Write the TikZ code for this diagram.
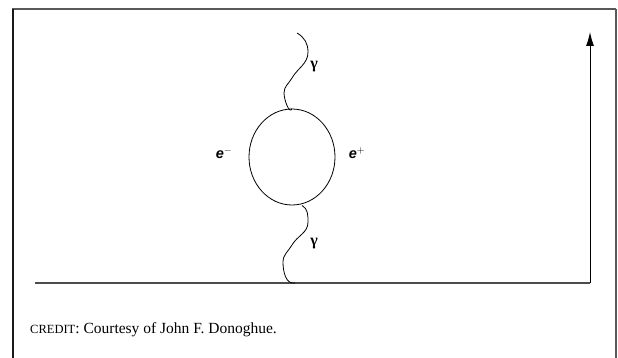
\documentclass[tikz,border=0pt]{standalone}
\usepackage{fontspec}
\setmainfont{Liberation Serif}
\newfontfamily\labfont{Liberation Sans}
\usetikzlibrary{arrows.meta,shapes.geometric}
\begin{document}
\begin{tikzpicture}[x=1pt,y=-1pt,
  frameline/.style={draw=black!65,line width=1.4pt},
  wig/.style={draw=black,line width=0.8pt},
  lab/.style={font=\bfseries\fontsize{16}{18}\selectfont,inner sep=0pt},
  elab/.style={font=\labfont\bfseries\itshape\fontsize{14.5}{16}\selectfont,inner sep=0pt},
  capt/.style={font=\fontsize{15.5}{18}\selectfont,anchor=west,inner sep=0pt}]
\useasboundingbox (0,0) rectangle (618,358);
% frame
\coordinate (tl) at (13,9);
\coordinate (tr) at (616,9);
\coordinate (bl) at (13,358);
\coordinate (br) at (616,358);
\draw[frameline] (tr) -- ([xshift=-1pt]tl);
\draw[frameline] (tr) -- (br);
\draw[draw=black!90,line width=2.4pt] (tl) -- (bl);
% loop
\node[ellipse,draw,line width=0.8pt,minimum width=86pt,minimum height=96pt,inner sep=0pt] (loop) at (292,157) {};
% axes
\coordinate (o) at (35,283);
\coordinate (c) at (590,283);
\coordinate (top) at (590,32);
\draw[draw=black!70,line width=1.2pt] (o) -- (c);
\draw[line width=1pt,-{Latex[length=14pt,width=8pt]}] (c) -- (top);
% wiggles
\coordinate (w1) at (297,33);
\coordinate (w2) at (295,283);
\draw[wig] (w1) to[out=-30,in=90] (308,52) to[out=-90,in=60] (292,78) to[out=240,in=90] (284,93) to[out=-90,in=250] (loop.north);
\path (loop.south) ++(10,0) coordinate (ls);
\draw[wig] (ls) to[out=-30,in=90] (308,222) to[out=-90,in=60] (292,245) to[out=240,in=90] (283,262) to[out=-90,in=190] (w2);
% labels
\node[lab] (g1) at (314,67) {γ};
\node[lab] (g2) at (314,244) {γ};
\node[elab] (em) at (224,153) {e$^{\mathbf{-}}$};
\node[elab] (ep) at (357,153) {e$^{+}$};
% caption
\node[capt] (cr) at (30,330) {{\fontsize{12.5}{14}\selectfont CREDIT}: Courtesy of John F. Donoghue.};
\end{tikzpicture}
\end{document}
